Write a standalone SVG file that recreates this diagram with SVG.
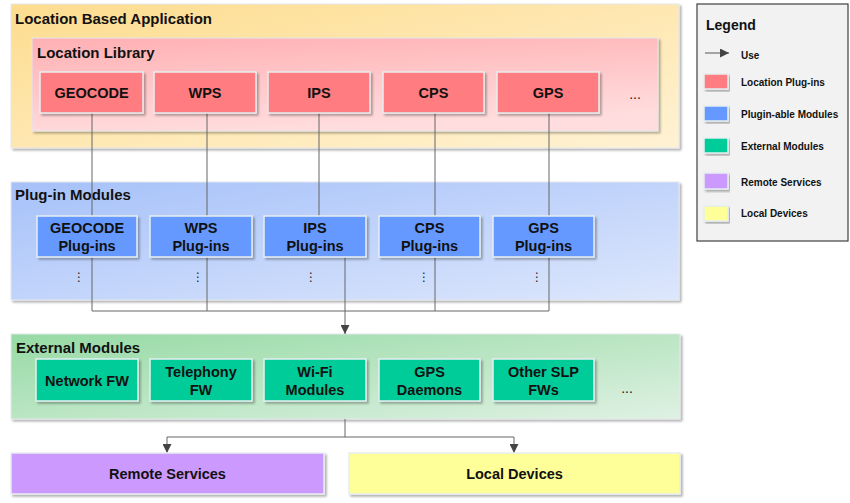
<svg xmlns="http://www.w3.org/2000/svg" width="850" height="503" viewBox="0 0 850 503">
<style>
.t{font-family:"Liberation Sans",Arial,sans-serif;font-weight:bold;fill:#111}
.title{font-size:15px}
.box{font-size:14.5px;text-anchor:middle}
.leg{font-size:10px}
.more{font-family:"Liberation Sans",Arial,sans-serif;font-size:14px;text-anchor:middle;fill:#222}
.cont{stroke:#e4e8ec;stroke-width:1}
.node{stroke:#e6eef0;stroke-width:1.5}
.red{fill:#FF7C80}
.blue{fill:#6699FF}
.green{fill:#00CC99}
.dots{font-family:"DejaVu Sans",sans-serif;font-size:12px;text-anchor:middle;fill:#222}
.ln{fill:none;stroke:#666;stroke-width:1}
</style>
<defs>
<linearGradient id="gApp" x1="0" y1="0" x2="1" y2="1"><stop offset="0" stop-color="#FDDC8E"/><stop offset="1" stop-color="#FFF2D4"/></linearGradient>
<linearGradient id="gLib" x1="0" y1="0" x2="0.3" y2="1"><stop offset="0" stop-color="#FFB0B3"/><stop offset="1" stop-color="#FFDCDD"/></linearGradient>
<linearGradient id="gPlug" x1="0" y1="0" x2="1" y2="1"><stop offset="0" stop-color="#A6C1F9"/><stop offset="1" stop-color="#DDE7FC"/></linearGradient>
<linearGradient id="gExt" x1="0" y1="0" x2="1" y2="1"><stop offset="0" stop-color="#96DAA4"/><stop offset="1" stop-color="#DFF1E3"/></linearGradient>
<filter id="sh" x="-5%" y="-10%" width="110%" height="130%"><feDropShadow dx="2" dy="2" stdDeviation="1.2" flood-color="#000" flood-opacity="0.3"/></filter>
<marker id="arr" viewBox="0 0 10 10" refX="10" refY="5" markerWidth="9" markerHeight="9" markerUnits="userSpaceOnUse" orient="auto"><path d="M0,0 L10,5 L0,10 z" fill="#444"/></marker>
</defs>
<rect x="0" y="0" width="850" height="503" fill="#fff"/>

<g id="location-based-application">
<rect class="cont" x="11" y="4" width="668" height="144" fill="url(#gApp)" filter="url(#sh)"/>
<text class="t title" x="15" y="24">Location Based Application</text>
</g>
<g id="location-library">
<rect class="cont" x="32" y="38" width="626" height="93" fill="url(#gLib)" filter="url(#sh)"/>
<text class="t title" x="37" y="58">Location Library</text>
</g>
<g id="plugin-modules">
<rect class="cont" x="11" y="182" width="668" height="118" fill="url(#gPlug)" filter="url(#sh)"/>
<text class="t title" x="15" y="200">Plug-in Modules</text>
</g>
<g id="external-modules">
<rect class="cont" x="11" y="334" width="669" height="85" fill="url(#gExt)" filter="url(#sh)"/>
<text class="t title" x="16" y="353">External Modules</text>
</g>

<g id="connectors">
<path class="ln" stroke="#555" d="M92,113 V311"/>
<path class="ln" stroke="#999" d="M207,113 V311"/>
<path class="ln" stroke="#555" d="M319,113 V216"/>
<path class="ln" stroke="#888" d="M435,113 V311"/>
<path class="ln" stroke="#333" d="M549,113 V311"/>
<path class="ln" stroke="#777" d="M92,311 H549"/>
<path class="ln" stroke="#444" d="M345,257 V334" marker-end="url(#arr)"/>
<path class="ln" stroke="#555" d="M345,419 V437"/>
<path class="ln" stroke="#555" d="M167,437 H514"/>
<path class="ln" stroke="#555" d="M167,437 V453" marker-end="url(#arr)"/>
<path class="ln" stroke="#555" d="M514,437 V453" marker-end="url(#arr)"/>
</g>

<g id="geocode"><rect class="node red" x="40" y="72" width="103" height="41" filter="url(#sh)"/><text class="t box" x="91.5" y="98">GEOCODE</text></g>
<g id="wps"><rect class="node red" x="154" y="72" width="102" height="41" filter="url(#sh)"/><text class="t box" x="205" y="98">WPS</text></g>
<g id="ips"><rect class="node red" x="268" y="72" width="102" height="41" filter="url(#sh)"/><text class="t box" x="319" y="98">IPS</text></g>
<g id="cps"><rect class="node red" x="383" y="72" width="101" height="41" filter="url(#sh)"/><text class="t box" x="433.5" y="98">CPS</text></g>
<g id="gps"><rect class="node red" x="497" y="72" width="102" height="41" filter="url(#sh)"/><text class="t box" x="548" y="98">GPS</text></g>
<g id="lib-more"><text class="more" x="635" y="99">...</text></g>

<g id="geocode-plugins"><rect class="node blue" x="37" y="216" width="100" height="41" filter="url(#sh)"/><text class="t box" x="87" y="233">GEOCODE</text><text class="t box" x="87" y="251">Plug-ins</text><text class="dots" x="79" y="281">⋮</text></g>
<g id="wps-plugins"><rect class="node blue" x="150" y="216" width="102" height="41" filter="url(#sh)"/><text class="t box" x="201" y="233">WPS</text><text class="t box" x="201" y="251">Plug-ins</text><text class="dots" x="198" y="281">⋮</text></g>
<g id="ips-plugins"><rect class="node blue" x="264" y="216" width="102" height="41" filter="url(#sh)"/><text class="t box" x="315" y="233">IPS</text><text class="t box" x="315" y="251">Plug-ins</text><text class="dots" x="311" y="281">⋮</text></g>
<g id="cps-plugins"><rect class="node blue" x="379" y="216" width="101" height="41" filter="url(#sh)"/><text class="t box" x="429.5" y="233">CPS</text><text class="t box" x="429.5" y="251">Plug-ins</text><text class="dots" x="424" y="281">⋮</text></g>
<g id="gps-plugins"><rect class="node blue" x="493" y="216" width="101" height="41" filter="url(#sh)"/><text class="t box" x="543.5" y="233">GPS</text><text class="t box" x="543.5" y="251">Plug-ins</text><text class="dots" x="537" y="281">⋮</text></g>

<g id="network-fw"><rect class="node green" x="36" y="359" width="102" height="42" filter="url(#sh)"/><text class="t box" x="87" y="386">Network FW</text></g>
<g id="telephony-fw"><rect class="node green" x="150" y="359" width="102" height="42" filter="url(#sh)"/><text class="t box" x="201" y="377">Telephony</text><text class="t box" x="201" y="395">FW</text></g>
<g id="wifi-modules"><rect class="node green" x="264" y="359" width="102" height="42" filter="url(#sh)"/><text class="t box" x="315" y="377">Wi-Fi</text><text class="t box" x="315" y="395">Modules</text></g>
<g id="gps-daemons"><rect class="node green" x="379" y="359" width="101" height="42" filter="url(#sh)"/><text class="t box" x="429.5" y="377">GPS</text><text class="t box" x="429.5" y="395">Daemons</text></g>
<g id="other-slp-fws"><rect class="node green" x="493" y="359" width="101" height="42" filter="url(#sh)"/><text class="t box" x="543.5" y="377">Other SLP</text><text class="t box" x="543.5" y="395">FWs</text></g>
<g id="ext-more"><text class="more" x="627" y="393">...</text></g>

<g id="remote-services"><rect class="node" x="11" y="453" width="313" height="41" fill="#CC99FF" filter="url(#sh)"/><text class="t box" x="167.5" y="479">Remote Services</text></g>
<g id="local-devices"><rect class="node" x="349" y="453" width="331" height="41" fill="#FFFF99" filter="url(#sh)"/><text class="t box" x="514.5" y="479">Local Devices</text></g>

<g id="legend">
<rect x="697" y="4" width="151" height="237" fill="#F2F2F2" stroke="#404040" stroke-width="1.2"/>
<text class="t" x="706" y="30" font-size="14">Legend</text>
<path d="M705,53 H729" stroke="#555" stroke-width="1" marker-end="url(#arr)"/>
<text class="t leg" x="741" y="59">Use</text>
<rect class="node red" x="704" y="74" width="24" height="15" filter="url(#sh)"/>
<text class="t leg" x="741" y="86">Location Plug-ins</text>
<rect class="node blue" x="704" y="106" width="24" height="15" filter="url(#sh)"/>
<text class="t leg" x="741" y="118">Plugin-able Modules</text>
<rect class="node green" x="704" y="138" width="24" height="15" filter="url(#sh)"/>
<text class="t leg" x="741" y="150">External Modules</text>
<rect class="node" x="704" y="173" width="24" height="16" fill="#CC99FF" filter="url(#sh)"/>
<text class="t leg" x="741" y="186">Remote Services</text>
<rect class="node" x="704" y="206" width="24" height="15" fill="#FFFF99" filter="url(#sh)"/>
<text class="t leg" x="741" y="217">Local Devices</text>
</g>
</svg>
